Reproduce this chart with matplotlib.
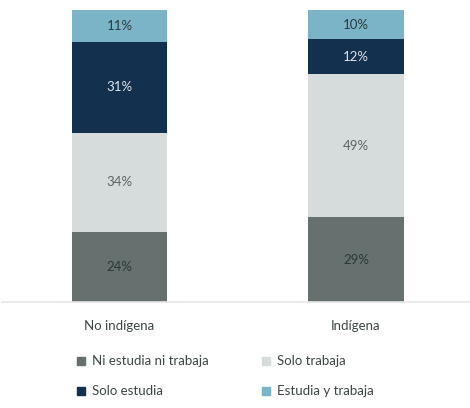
import numpy as np
import matplotlib
matplotlib.use("Agg")
import matplotlib.pyplot as plt
from matplotlib.patches import Rectangle

categories = ["No indígena", "Indígena"]
series = ["Ni estudia ni trabaja", "Solo trabaja", "Solo estudia", "Estudia y trabaja"]
values = {
    "Ni estudia ni trabaja": [24, 29],
    "Solo trabaja": [34, 49],
    "Solo estudia": [31, 12],
    "Estudia y trabaja": [11, 10],
}
colors = ["#66716f", "#d6dbdc", "#14304f", "#7ab4c6"]
text_colors = ["#2b3636", "#5a6464", "#dfe5ea", "#2b3a40"]

plt.rcParams['font.family'] = ['Lato', 'DejaVu Sans']

W, H = 470, 408
fig = plt.figure(figsize=(W / 100, H / 100), dpi=100)
ax = fig.add_axes([2 / W, 1 - 302 / H, 468 / W, 292 / H])

x = np.arange(len(categories))
width = 0.402
bottom = np.zeros(len(categories))
for s, c, tc in zip(series, colors, text_colors):
    v = np.array(values[s], dtype=float)
    ax.bar(x, v, width, bottom=bottom, color=c, edgecolor='none')
    for xi, b, vi in zip(x, bottom, v):
        ax.text(xi, b + vi / 2, f"{int(vi)}%", ha='center', va='center',
                fontsize=9.5, color=tc)
    bottom += v

ax.set_xlim(-0.497, 1.482)
ax.set_ylim(0, 100)
for sp in ['top', 'right', 'left']:
    ax.spines[sp].set_visible(False)
ax.spines['bottom'].set_color('#e6e6e6')
ax.spines['bottom'].set_linewidth(1.2)
ax.set_yticks([])
ax.set_xticks(x)
ax.set_xticklabels(categories, fontsize=9.5, color='#3d4646')
ax.tick_params(axis='x', length=0, pad=13)

# legend
leg_x = [77, 262]
leg_y = [361, 391]
for i, (s, c) in enumerate(zip(series, colors)):
    px = leg_x[i % 2]
    py = leg_y[i // 2]
    fig.patches.append(Rectangle((px / W, 1 - (py + 4) / H), 8 / W, 8 / H,
                                 transform=fig.transFigure, color=c, figure=fig))
    fig.text((px + 15) / W, 1 - py / H, s, ha='left', va='center',
             fontsize=9.5, color='#3d4646')

fig.savefig("out.png", dpi=100)
